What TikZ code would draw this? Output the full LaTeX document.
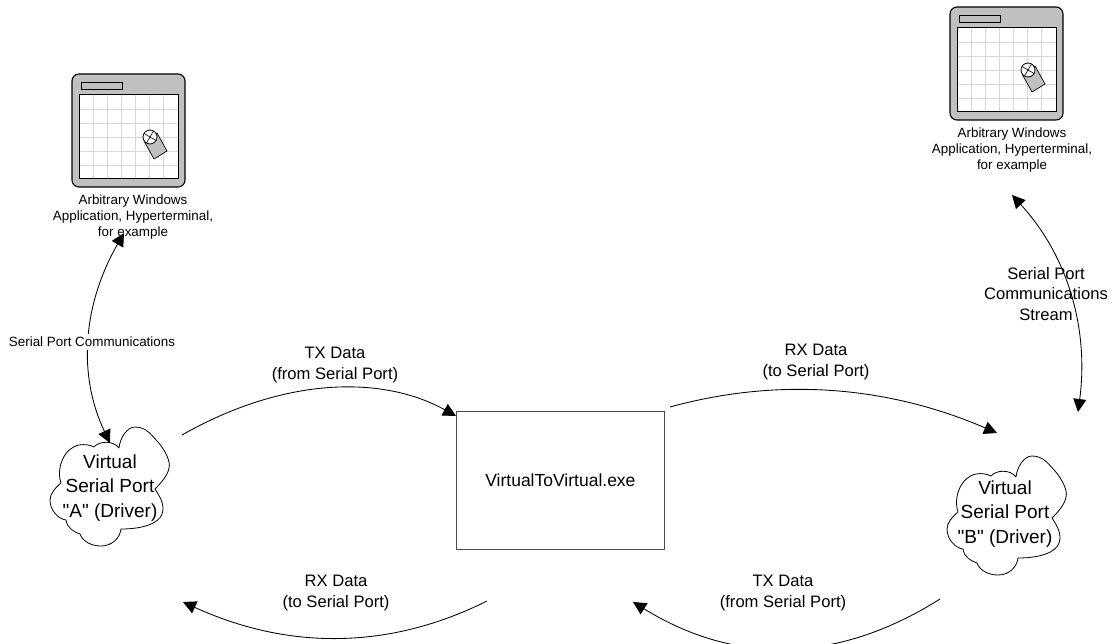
\documentclass[tikz,border=0pt]{standalone}
\usepackage{fontspec}
\setmainfont{Liberation Sans}
\newfontfamily\rsplain{Liberation Sans}
\usetikzlibrary{arrows.meta}
\definecolor{winfill}{HTML}{C0C0C0}
\definecolor{gridcol}{HTML}{D6D6D6}
\tikzset{
  conn/.style={draw=black,line width=0.85pt,-{Triangle[length=13pt,width=13pt]}},
  biconn/.style={draw=black,line width=0.85pt,{Triangle[length=13pt,width=13pt]}-{Triangle[length=13pt,width=13pt]}},
  small/.style={align=center,inner sep=0pt,font=\fontsize{13.4}{16}\selectfont},
  medium/.style={align=center,inner sep=0pt,font=\fontsize{16.6}{20.5}\selectfont},
  large/.style={align=center,inner sep=0pt,font=\rsplain\fontsize{19}{24.5}\selectfont},
  cloudline/.style={draw=black,line width=0.8pt},
  pics/winicon/.style={code={
    \draw[fill=winfill,line width=1.1pt,rounded corners=7pt] (0,0) rectangle (113,113);
    \draw[fill=winfill,line width=0.9pt] (9,8) rectangle (50,15);
    \fill[white] (7,21) rectangle (106,105);
    \foreach \gx in {21,35,49,63,77,91} \draw[gridcol,line width=0.8pt] (\gx,21) -- (\gx,105);
    \foreach \gy in {35,49,63,77,91} \draw[gridcol,line width=0.8pt] (7,\gy) -- (106,\gy);
    \draw[line width=1pt] (7,21) rectangle (106,105);
    \draw[fill=winfill,line width=0.7pt] (85,59) -- (95,77) -- (82,85) -- (72,67) -- cycle;
    \draw[fill=white,line width=0.8pt] (78,63) circle (7);
    \draw[line width=0.6pt] (78,63) ++(-6,-3.5) -- ++(12,7) (78,63) ++(3.5,-6) -- ++(-7,12);
  }},
  pics/cloudshape/.style={code={
    \draw[cloudline] (0,0) .. controls (1,-10) and (8,-21) .. (16,-21)
      .. controls (28,-21) and (33,-12) .. (39,-6)
      .. controls (46,2) and (52,14) .. (50,20)
      .. controls (49,27) and (42,35) .. (36,41)
      .. controls (42,50) and (46,58) .. (43,66)
      .. controls (40,75) and (25,81) .. (2,81)
      .. controls (1,90) and (-7,98) .. (-18,98)
      .. controls (-27,98) and (-36,94) .. (-39,86)
      .. controls (-45,84) and (-52,80) .. (-53,72)
      .. controls (-61,71) and (-69,62) .. (-69,52)
      .. controls (-69,46) and (-64,40) .. (-58,35)
      .. controls (-63,20) and (-55,0) .. (-40,-3)
      .. controls (-34,-4) and (-29,-3) .. (-25,-1)
      .. controls (-20,-7) and (-6,-8) .. (0,0);
  }}
}
\begin{document}
\begin{tikzpicture}[x=1pt,y=-1pt]
\useasboundingbox (0,0) rectangle (1115,644);
\clip (0,0) rectangle (1115,644);
% icons
\pic at (72,74) {winicon};
\pic at (950,7) {winicon};
\node[small] (appA) at (133,217) {Arbitrary Windows\\Application, Hyperterminal,\\for example};
\node[small] (appB) at (1012,150) {Arbitrary Windows\\Application, Hyperterminal,\\for example};
% clouds
\pic at (119,448) {cloudshape};
\pic at (1016,477) {cloudshape};
\node[large] (portA) at (110,488) {Virtual\\Serial Port\\"A" (Driver)};
\node[large] (portB) at (1005,514) {Virtual\\Serial Port\\"B" (Driver)};
% centre box
\node[draw=black!70,line width=0.8pt,minimum width=208pt,minimum height=138pt,inner sep=0pt,anchor=north west,
  font=\fontsize{17.5}{20}\selectfont] (exe) at (456,411) {VirtualToVirtual.exe};
% connector ends
\coordinate (txAs) at (182,435);
\coordinate (txAe) at (456,416);
\coordinate (rxBs) at (670,407);
\coordinate (rxBe) at (997,433);
\coordinate (rxAs) at (487,601);
\coordinate (rxAe) at (183,602);
\coordinate (txBs) at (940,599);
\coordinate (txBe) at (633,602);
\coordinate (spAu) at (124,233);
\coordinate (spAd) at (110,443);
\coordinate (spBu) at (1012,195);
\coordinate (spBd) at (1078,412);
% connectors
\draw[conn] (txAs) .. controls (284,377) and (382,375) .. (txAe);
\draw[conn] (rxBs) .. controls (779,377) and (888,386) .. (rxBe);
\draw[conn] (rxAs) .. controls (389,650) and (288,650) .. (rxAe);
\draw[conn] (txBs) .. controls (837,664) and (735,665) .. (txBe);
\draw[biconn] (spAu) .. controls (82,306) and (78,376) .. (spAd);
\draw[biconn] (spBu) .. controls (1068,256) and (1089,329) .. (spBd);
% labels
\node[small,fill=white,inner ysep=3pt] (lblA) at (92,342) {Serial Port Communications};
\node[medium] (lblB) at (1046,294) {Serial Port\\Communications\\Stream};
\node[medium] (lbl1) at (335,365) {TX Data\\(from Serial Port)};
\node[medium] (lbl2) at (816,362) {RX Data\\(to Serial Port)};
\node[medium] (lbl3) at (336,593) {RX Data\\(to Serial Port)};
\node[medium] (lbl4) at (783,593) {TX Data\\(from Serial Port)};
\end{tikzpicture}
\end{document}
